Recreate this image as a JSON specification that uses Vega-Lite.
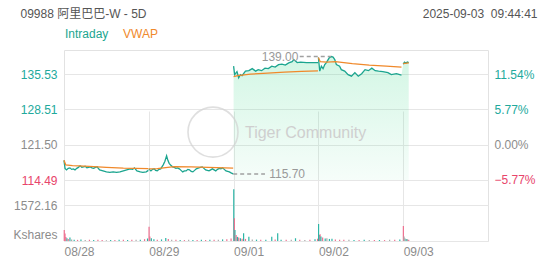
{
"$schema": "https://vega.github.io/schema/vega-lite/v6.json",
"width": 424,
"height": 191,
"autosize": {"type": "none"},
"padding": {"left": 64, "top": 50, "right": 64, "bottom": 24},
"background": "#ffffff",
"config": {
  "font": "Liberation Sans",
  "view": {"stroke": "#e2e2e2", "strokeWidth": 1},
  "axis": {"domain": false, "ticks": false, "gridColor": "#e6e6e6", "gridWidth": 1, "labelFontSize": 12, "labelColor": "#8c8c8c", "labelFont": "Liberation Sans"}
},
"datasets": {
  "line": [
    {"X":0.000,"p":118.4,"s":"Intraday","d":0},{"X":0.012,"p":116.8,"s":"Intraday","d":0},{"X":0.03,"p":116.5,"s":"Intraday","d":0},{"X":0.05,"p":116.8,"s":"Intraday","d":0},{"X":0.07,"p":116.9,"s":"Intraday","d":0},{"X":0.09,"p":116.6,"s":"Intraday","d":0},{"X":0.11,"p":116.7,"s":"Intraday","d":0},{"X":0.13,"p":116.5,"s":"Intraday","d":0},{"X":0.15,"p":116.8,"s":"Intraday","d":0},{"X":0.17,"p":117.0,"s":"Intraday","d":0},{"X":0.19,"p":117.3,"s":"Intraday","d":0},{"X":0.21,"p":117.0,"s":"Intraday","d":0},{"X":0.23,"p":117.1,"s":"Intraday","d":0},{"X":0.25,"p":117.2,"s":"Intraday","d":0},{"X":0.27,"p":116.9,"s":"Intraday","d":0},{"X":0.29,"p":117.0,"s":"Intraday","d":0},{"X":0.31,"p":117.1,"s":"Intraday","d":0},{"X":0.33,"p":116.9,"s":"Intraday","d":0},{"X":0.35,"p":116.8,"s":"Intraday","d":0},{"X":0.37,"p":117.0,"s":"Intraday","d":0},{"X":0.39,"p":117.1,"s":"Intraday","d":0},{"X":0.42,"p":116.5,"s":"Intraday","d":0},{"X":0.46,"p":116.3,"s":"Intraday","d":0},{"X":0.50,"p":116.1,"s":"Intraday","d":0},{"X":0.54,"p":116.0,"s":"Intraday","d":0},{"X":0.58,"p":116.1,"s":"Intraday","d":0},{"X":0.62,"p":116.0,"s":"Intraday","d":0},{"X":0.66,"p":116.1,"s":"Intraday","d":0},{"X":0.70,"p":116.3,"s":"Intraday","d":0},{"X":0.74,"p":116.5,"s":"Intraday","d":0},{"X":0.78,"p":116.7,"s":"Intraday","d":0},{"X":0.81,"p":116.6,"s":"Intraday","d":0},{"X":0.83,"p":116.9,"s":"Intraday","d":0},{"X":0.86,"p":116.3,"s":"Intraday","d":0},{"X":0.90,"p":116.1,"s":"Intraday","d":0},{"X":0.93,"p":116.0,"s":"Intraday","d":0},{"X":0.97,"p":116.1,"s":"Intraday","d":0},{"X":0.995,"p":116.4,"s":"Intraday","d":0},
    {"X":0.0,"p":118.4,"s":"VWAP","d":0},{"X":0.02,"p":117.5,"s":"VWAP","d":0},{"X":0.1,"p":117.35,"s":"VWAP","d":0},{"X":0.3,"p":117.2,"s":"VWAP","d":0},{"X":0.5,"p":117.0,"s":"VWAP","d":0},{"X":0.7,"p":116.85,"s":"VWAP","d":0},{"X":0.995,"p":116.75,"s":"VWAP","d":0},
    {"X":1.00,"p":116.7,"s":"Intraday","d":1},{"X":1.025,"p":116.3,"s":"Intraday","d":1},{"X":1.045,"p":116.6,"s":"Intraday","d":1},{"X":1.064,"p":116.7,"s":"Intraday","d":1},{"X":1.08,"p":116.4,"s":"Intraday","d":1},{"X":1.10,"p":116.3,"s":"Intraday","d":1},{"X":1.12,"p":116.6,"s":"Intraday","d":1},{"X":1.14,"p":116.7,"s":"Intraday","d":1},{"X":1.17,"p":117.5,"s":"Intraday","d":1},{"X":1.19,"p":118.2,"s":"Intraday","d":1},{"X":1.21,"p":119.3,"s":"Intraday","d":1},{"X":1.225,"p":118.4,"s":"Intraday","d":1},{"X":1.24,"p":117.8,"s":"Intraday","d":1},{"X":1.26,"p":117.4,"s":"Intraday","d":1},{"X":1.28,"p":117.1,"s":"Intraday","d":1},{"X":1.30,"p":117.0,"s":"Intraday","d":1},{"X":1.32,"p":116.8,"s":"Intraday","d":1},{"X":1.34,"p":116.9,"s":"Intraday","d":1},{"X":1.36,"p":116.7,"s":"Intraday","d":1},{"X":1.38,"p":116.4,"s":"Intraday","d":1},{"X":1.40,"p":116.1,"s":"Intraday","d":1},{"X":1.42,"p":116.3,"s":"Intraday","d":1},{"X":1.44,"p":116.3,"s":"Intraday","d":1},{"X":1.46,"p":116.6,"s":"Intraday","d":1},{"X":1.48,"p":116.5,"s":"Intraday","d":1},{"X":1.50,"p":116.2,"s":"Intraday","d":1},{"X":1.52,"p":116.1,"s":"Intraday","d":1},{"X":1.54,"p":116.4,"s":"Intraday","d":1},{"X":1.56,"p":116.7,"s":"Intraday","d":1},{"X":1.59,"p":116.9,"s":"Intraday","d":1},{"X":1.61,"p":117.0,"s":"Intraday","d":1},{"X":1.63,"p":117.1,"s":"Intraday","d":1},{"X":1.65,"p":116.8,"s":"Intraday","d":1},{"X":1.67,"p":116.5,"s":"Intraday","d":1},{"X":1.69,"p":116.4,"s":"Intraday","d":1},{"X":1.71,"p":116.3,"s":"Intraday","d":1},{"X":1.73,"p":116.5,"s":"Intraday","d":1},{"X":1.75,"p":116.7,"s":"Intraday","d":1},{"X":1.77,"p":116.5,"s":"Intraday","d":1},{"X":1.79,"p":116.3,"s":"Intraday","d":1},{"X":1.81,"p":116.6,"s":"Intraday","d":1},{"X":1.83,"p":116.8,"s":"Intraday","d":1},{"X":1.85,"p":116.7,"s":"Intraday","d":1},{"X":1.87,"p":116.9,"s":"Intraday","d":1},{"X":1.89,"p":116.6,"s":"Intraday","d":1},{"X":1.91,"p":116.3,"s":"Intraday","d":1},{"X":1.93,"p":116.2,"s":"Intraday","d":1},{"X":1.95,"p":116.1,"s":"Intraday","d":1},{"X":1.97,"p":115.9,"s":"Intraday","d":1},{"X":1.995,"p":115.7,"s":"Intraday","d":1},
    {"X":1.0,"p":116.7,"s":"VWAP","d":1},{"X":1.1,"p":116.75,"s":"VWAP","d":1},{"X":1.2,"p":116.95,"s":"VWAP","d":1},{"X":1.3,"p":117.15,"s":"VWAP","d":1},{"X":1.5,"p":117.1,"s":"VWAP","d":1},{"X":1.7,"p":117.0,"s":"VWAP","d":1},{"X":1.995,"p":116.85,"s":"VWAP","d":1},
    {"X":2.00,"p":137.1,"s":"Intraday","d":2},{"X":2.012,"p":135.4,"s":"Intraday","d":2},{"X":2.04,"p":136.0,"s":"Intraday","d":2},{"X":2.06,"p":134.8,"s":"Intraday","d":2},{"X":2.08,"p":135.4,"s":"Intraday","d":2},{"X":2.10,"p":135.2,"s":"Intraday","d":2},{"X":2.14,"p":136.1,"s":"Intraday","d":2},{"X":2.18,"p":136.2,"s":"Intraday","d":2},{"X":2.22,"p":136.6,"s":"Intraday","d":2},{"X":2.26,"p":136.1,"s":"Intraday","d":2},{"X":2.29,"p":136.4,"s":"Intraday","d":2},{"X":2.33,"p":136.2,"s":"Intraday","d":2},{"X":2.37,"p":136.7,"s":"Intraday","d":2},{"X":2.41,"p":136.6,"s":"Intraday","d":2},{"X":2.45,"p":137.1,"s":"Intraday","d":2},{"X":2.49,"p":136.9,"s":"Intraday","d":2},{"X":2.53,"p":137.4,"s":"Intraday","d":2},{"X":2.57,"p":137.5,"s":"Intraday","d":2},{"X":2.61,"p":137.3,"s":"Intraday","d":2},{"X":2.65,"p":137.75,"s":"Intraday","d":2},{"X":2.69,"p":138.0,"s":"Intraday","d":2},{"X":2.71,"p":138.4,"s":"Intraday","d":2},{"X":2.75,"p":137.8,"s":"Intraday","d":2},{"X":2.79,"p":137.9,"s":"Intraday","d":2},{"X":2.86,"p":137.8,"s":"Intraday","d":2},{"X":2.94,"p":137.8,"s":"Intraday","d":2},{"X":2.995,"p":137.8,"s":"Intraday","d":2},
    {"X":2.0,"p":135.0,"s":"VWAP","d":2},{"X":2.05,"p":135.2,"s":"VWAP","d":2},{"X":2.2,"p":135.5,"s":"VWAP","d":2},{"X":2.4,"p":135.7,"s":"VWAP","d":2},{"X":2.6,"p":135.9,"s":"VWAP","d":2},{"X":2.8,"p":136.05,"s":"VWAP","d":2},{"X":2.995,"p":136.15,"s":"VWAP","d":2},
    {"X":3.00,"p":138.8,"s":"Intraday","d":3},{"X":3.016,"p":136.1,"s":"Intraday","d":3},{"X":3.035,"p":137.1,"s":"Intraday","d":3},{"X":3.055,"p":136.6,"s":"Intraday","d":3},{"X":3.075,"p":137.4,"s":"Intraday","d":3},{"X":3.094,"p":137.8,"s":"Intraday","d":3},{"X":3.126,"p":138.7,"s":"Intraday","d":3},{"X":3.153,"p":139.0,"s":"Intraday","d":3},{"X":3.173,"p":138.9,"s":"Intraday","d":3},{"X":3.193,"p":138.4,"s":"Intraday","d":3},{"X":3.212,"p":137.4,"s":"Intraday","d":3},{"X":3.25,"p":137.1,"s":"Intraday","d":3},{"X":3.27,"p":136.4,"s":"Intraday","d":3},{"X":3.31,"p":136.1,"s":"Intraday","d":3},{"X":3.35,"p":135.4,"s":"Intraday","d":3},{"X":3.39,"p":135.1,"s":"Intraday","d":3},{"X":3.43,"p":135.8,"s":"Intraday","d":3},{"X":3.47,"p":135.1,"s":"Intraday","d":3},{"X":3.51,"p":135.6,"s":"Intraday","d":3},{"X":3.55,"p":136.4,"s":"Intraday","d":3},{"X":3.59,"p":136.2,"s":"Intraday","d":3},{"X":3.63,"p":136.7,"s":"Intraday","d":3},{"X":3.67,"p":136.2,"s":"Intraday","d":3},{"X":3.71,"p":136.1,"s":"Intraday","d":3},{"X":3.76,"p":136.0,"s":"Intraday","d":3},{"X":3.82,"p":135.8,"s":"Intraday","d":3},{"X":3.86,"p":135.4,"s":"Intraday","d":3},{"X":3.92,"p":135.6,"s":"Intraday","d":3},{"X":3.98,"p":135.3,"s":"Intraday","d":3},
    {"X":3.0,"p":138.8,"s":"VWAP","d":3},{"X":3.02,"p":138.0,"s":"VWAP","d":3},{"X":3.1,"p":137.9,"s":"VWAP","d":3},{"X":3.2,"p":138.0,"s":"VWAP","d":3},{"X":3.3,"p":137.8,"s":"VWAP","d":3},{"X":3.4,"p":137.6,"s":"VWAP","d":3},{"X":3.6,"p":137.3,"s":"VWAP","d":3},{"X":3.8,"p":137.1,"s":"VWAP","d":3},{"X":3.98,"p":136.9,"s":"VWAP","d":3},
    {"X":4.00,"p":137.5,"s":"Intraday","d":4},{"X":4.015,"p":137.9,"s":"Intraday","d":4},{"X":4.03,"p":137.7,"s":"Intraday","d":4},{"X":4.05,"p":137.9,"s":"Intraday","d":4},{"X":4.065,"p":137.8,"s":"Intraday","d":4},
    {"X":4.0,"p":137.6,"s":"VWAP","d":4},{"X":4.065,"p":137.75,"s":"VWAP","d":4}
  ],
  "vol": [
    {"X":0.003,"v":480,"c":"d"},{"X":0.012,"v":330,"c":"d"},{"X":0.022,"v":180,"c":"d"},{"X":0.035,"v":120,"c":"u"},{"X":0.05,"v":90,"c":"d"},{"X":0.07,"v":150,"c":"u"},{"X":0.09,"v":70,"c":"n"},{"X":0.12,"v":60,"c":"u"},{"X":0.16,"v":50,"c":"d"},{"X":0.2,"v":70,"c":"u"},{"X":0.25,"v":45,"c":"n"},{"X":0.3,"v":55,"c":"d"},{"X":0.35,"v":40,"c":"u"},{"X":0.4,"v":50,"c":"d"},{"X":0.45,"v":45,"c":"d"},{"X":0.5,"v":35,"c":"n"},{"X":0.55,"v":40,"c":"u"},{"X":0.6,"v":45,"c":"d"},{"X":0.65,"v":60,"c":"u"},{"X":0.7,"v":50,"c":"d"},{"X":0.75,"v":45,"c":"u"},{"X":0.8,"v":55,"c":"d"},{"X":0.85,"v":50,"c":"n"},{"X":0.9,"v":60,"c":"u"},{"X":0.95,"v":80,"c":"d"},{"X":0.985,"v":110,"c":"u"},
    {"X":1.003,"v":625,"c":"d"},{"X":1.012,"v":200,"c":"d"},{"X":1.03,"v":120,"c":"u"},{"X":1.06,"v":80,"c":"u"},{"X":1.1,"v":60,"c":"d"},{"X":1.15,"v":70,"c":"u"},{"X":1.2,"v":130,"c":"u"},{"X":1.23,"v":90,"c":"d"},{"X":1.27,"v":60,"c":"n"},{"X":1.32,"v":50,"c":"d"},{"X":1.37,"v":45,"c":"u"},{"X":1.42,"v":40,"c":"d"},{"X":1.47,"v":50,"c":"n"},{"X":1.52,"v":45,"c":"u"},{"X":1.57,"v":40,"c":"d"},{"X":1.62,"v":55,"c":"u"},{"X":1.67,"v":45,"c":"d"},{"X":1.72,"v":50,"c":"u"},{"X":1.77,"v":60,"c":"d"},{"X":1.82,"v":55,"c":"n"},{"X":1.87,"v":70,"c":"u"},{"X":1.92,"v":80,"c":"d"},{"X":1.97,"v":110,"c":"d"},
    {"X":2.002,"v":2258,"c":"u"},{"X":2.009,"v":990,"c":"d"},{"X":2.016,"v":480,"c":"u"},{"X":2.03,"v":260,"c":"d"},{"X":2.045,"v":180,"c":"u"},{"X":2.06,"v":150,"c":"d"},{"X":2.08,"v":120,"c":"u"},{"X":2.1,"v":100,"c":"d"},{"X":2.118,"v":336,"c":"u"},{"X":2.14,"v":90,"c":"d"},{"X":2.18,"v":190,"c":"u"},{"X":2.22,"v":70,"c":"n"},{"X":2.27,"v":60,"c":"u"},{"X":2.32,"v":50,"c":"d"},{"X":2.38,"v":55,"c":"u"},{"X":2.45,"v":190,"c":"u"},{"X":2.49,"v":70,"c":"d"},{"X":2.52,"v":336,"c":"u"},{"X":2.56,"v":60,"c":"u"},{"X":2.62,"v":50,"c":"d"},{"X":2.68,"v":55,"c":"n"},{"X":2.73,"v":120,"c":"u"},{"X":2.78,"v":50,"c":"d"},{"X":2.84,"v":45,"c":"n"},{"X":2.9,"v":60,"c":"d"},{"X":2.96,"v":80,"c":"u"},{"X":2.99,"v":100,"c":"d"},
    {"X":3.002,"v":742,"c":"u"},{"X":3.01,"v":260,"c":"u"},{"X":3.02,"v":300,"c":"d"},{"X":3.03,"v":200,"c":"u"},{"X":3.05,"v":150,"c":"d"},{"X":3.08,"v":110,"c":"u"},{"X":3.1,"v":120,"c":"n"},{"X":3.13,"v":90,"c":"u"},{"X":3.16,"v":100,"c":"u"},{"X":3.2,"v":70,"c":"d"},{"X":3.25,"v":60,"c":"d"},{"X":3.3,"v":50,"c":"d"},{"X":3.36,"v":55,"c":"n"},{"X":3.42,"v":45,"c":"u"},{"X":3.48,"v":40,"c":"d"},{"X":3.54,"v":50,"c":"u"},{"X":3.6,"v":45,"c":"n"},{"X":3.66,"v":40,"c":"d"},{"X":3.72,"v":45,"c":"u"},{"X":3.78,"v":40,"c":"d"},{"X":3.84,"v":50,"c":"n"},{"X":3.9,"v":55,"c":"d"},{"X":3.96,"v":70,"c":"u"},
    {"X":4.002,"v":655,"c":"d"},{"X":4.01,"v":200,"c":"n"},{"X":4.02,"v":120,"c":"n"},{"X":4.035,"v":90,"c":"u"},{"X":4.05,"v":80,"c":"n"},{"X":4.065,"v":60,"c":"d"}
  ]
},
"layer": [
  {
    "layer": [
      {
        "data": {"name": "line"},
        "transform": [{"filter": "datum.s == 'Intraday' && datum.X >= 2"}],
        "mark": {"type": "area", "fill": {"gradient": "linear", "x1": 0, "y1": 0, "x2": 0, "y2": 1, "stops": [{"offset": 0, "color": "rgba(80,220,150,0.25)"}, {"offset": 1, "color": "rgba(80,220,150,0.05)"}]}},
        "encoding": {
          "x": {"field": "X", "type": "quantitative", "scale": {"domain": [0, 5], "nice": false, "zero": false},
                "axis": {"values": [0, 1, 2, 3, 4], "labelExpr": "['08/28','08/29','09/01','09/02','09/03'][datum.value]", "labelAlign": "left", "labelPadding": 5, "labelFlush": false, "grid": true, "title": null}},
          "y": {"field": "p", "type": "quantitative", "scale": {"domain": [114.49, 140.3], "nice": false, "zero": false, "range": [130, 0]},
                "axis": {"orient": "left", "values": [114.49, 121.5, 128.51, 135.53], "format": ".2f", "grid": true, "labelPadding": 7,
                         "labelColor": {"condition": [{"test": "datum.value > 122", "value": "#21a99c"}, {"test": "datum.value < 121", "value": "#e8456b"}], "value": "#8c8c8c"},
                         "title": "09988 阿里巴巴-W - 5D", "titleX": -44, "titleY": -37, "titleAngle": 0, "titleAlign": "left", "titleBaseline": "middle", "titleFontWeight": "normal", "titleFontSize": 12, "titleColor": "#555555", "titleFont": "Liberation Sans, Noto Sans CJK SC"}},
          "y2": {"datum": 114.49}
        }
      },
      {
        "data": {"values": [{"X": 1.757, "p": 124.0}]},
        "mark": {"type": "point", "shape": "circle", "size": 2500, "filled": false, "stroke": "#d2d2d2", "strokeWidth": 1.6},
        "encoding": {"x": {"field": "X", "type": "quantitative"}, "y": {"field": "p", "type": "quantitative"}}
      },
      {
        "data": {"values": [{"X": 2.134, "p": 123.8, "t": "Tiger Community"}]},
        "mark": {"type": "text", "align": "left", "baseline": "middle", "fontSize": 16, "color": "#cfcfcf"},
        "encoding": {"x": {"field": "X", "type": "quantitative"}, "y": {"field": "p", "type": "quantitative"}, "text": {"field": "t"}}
      },
      {
        "data": {"name": "line"},
        "mark": {"type": "line", "strokeWidth": 1.3},
        "encoding": {
          "x": {"field": "X", "type": "quantitative"},
          "y": {"field": "p", "type": "quantitative"},
          "color": {"field": "s", "type": "nominal", "scale": {"domain": ["Intraday", "VWAP"], "range": ["#1ba58f", "#f0892b"]},
                    "legend": {"orient": "none", "legendX": -11, "legendY": -22, "direction": "horizontal", "title": null, "symbolSize": 0, "symbolOpacity": 0, "symbolStrokeWidth": 0, "labelOffset": 0, "labelFontSize": 12, "columnPadding": 2, "padding": 0,
                               "encode": {"labels": {"update": {"fill": {"scale": "color", "field": "value"}}}}}},
          "detail": {"field": "d"}
        }
      },
      {
        "data": {"values": [{"x1": 2.78, "x2": 3.15, "p": 139.0}, {"x1": 1.995, "x2": 2.37, "p": 115.7}]},
        "mark": {"type": "rule", "strokeDash": [4, 3], "color": "#a0a0a0", "strokeWidth": 1.5},
        "encoding": {"x": {"field": "x1", "type": "quantitative"}, "x2": {"field": "x2"}, "y": {"field": "p", "type": "quantitative"}}
      },
      {
        "data": {"values": [{"X": 2.765, "p": 139.0, "t": "139.00"}]},
        "mark": {"type": "text", "align": "right", "baseline": "middle", "fontSize": 12, "color": "#999999"},
        "encoding": {"x": {"field": "X", "type": "quantitative"}, "y": {"field": "p", "type": "quantitative"}, "text": {"field": "t"}}
      },
      {
        "data": {"values": [{"X": 2.42, "p": 115.7, "t": "115.70"}]},
        "mark": {"type": "text", "align": "left", "baseline": "middle", "fontSize": 12, "color": "#999999"},
        "encoding": {"x": {"field": "X", "type": "quantitative"}, "y": {"field": "p", "type": "quantitative"}, "text": {"field": "t"}}
      }
    ]
  },
  {
    "data": {"name": "vol"},
    "mark": {"type": "rule", "strokeWidth": 1.2},
    "encoding": {
      "x": {"field": "X", "type": "quantitative"},
      "y": {"field": "v", "type": "quantitative", "scale": {"domain": [0, 2664], "nice": false, "range": [191, 130]},
            "axis": {"orient": "left", "values": [0, 1572.16], "labelExpr": "datum.value == 0 ? 'Kshares' : '1572.16'", "grid": true, "labelPadding": 7, "title": null,
                     "labelBaseline": {"condition": {"test": "datum.value == 0", "value": "bottom"}, "value": "middle"}}},
      "y2": {"datum": 0},
      "color": {"condition": [{"test": "datum.c == 'u'", "value": "#2cb5a6"}, {"test": "datum.c == 'd'", "value": "#ee6f8f"}], "value": "#a8a8a8"}
    }
  },
  {
    "data": {"values": [{"pct": 11.54}, {"pct": 5.77}, {"pct": 0}, {"pct": -5.77}]},
    "mark": {"type": "rule", "strokeOpacity": 0},
    "encoding": {
      "y": {"field": "pct", "type": "quantitative", "scale": {"domain": [-5.775, 15.468], "nice": false, "zero": false, "range": [130, 0]},
            "axis": {"orient": "right", "values": [11.54, 5.77, 0, -5.77], "labelExpr": "format(datum.value, '.2f') + '%'", "grid": false, "labelPadding": 6,
                     "labelColor": {"condition": [{"test": "datum.value > 0.5", "value": "#21a99c"}, {"test": "datum.value < -0.5", "value": "#e8456b"}], "value": "#8c8c8c"},
                     "title": "2025-09-03 \u00a009:44:41", "titleX": 49, "titleY": -37, "titleAngle": 0, "titleAlign": "right", "titleBaseline": "middle", "titleFontWeight": "normal", "titleFontSize": 12, "titleColor": "#555555", "titleFont": "Liberation Sans"}}
    }
  }
],
"resolve": {"scale": {"y": "independent"}}
}
